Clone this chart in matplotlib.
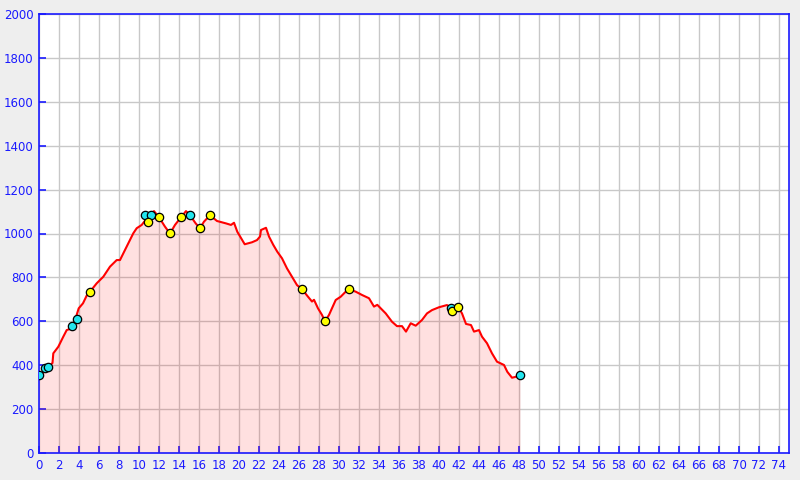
import numpy as np
import matplotlib
matplotlib.use("Agg")
from matplotlib import pyplot as plt

# profile: distance (km) and elevation (m)
km = [0.0, 0.43, 0.9, 1.35, 1.43, 1.93, 2.43, 2.77, 3.27, 3.5, 3.97, 4.4, 4.8, 5.1, 5.77,
      6.43, 7.1, 7.77, 8.1, 8.6, 9.43, 9.77, 10.27, 10.8, 11.5, 12.0, 12.6, 13.1, 13.6,
      14.2, 14.7, 15.1, 15.67, 16.1, 16.5, 17.1, 17.8, 18.7, 19.2, 19.5, 19.83, 20.57,
      21.3, 21.8, 22.1, 22.2, 22.7, 23.0, 23.43, 23.83, 24.3, 24.8, 25.3, 25.8, 26.3,
      26.9, 27.3, 27.5, 27.9, 28.3, 28.6, 29.0, 29.67, 30.17, 30.67, 31.0, 31.67, 32.3,
      33.0, 33.5, 33.83, 34.67, 35.3, 35.8, 36.3, 36.7, 37.17, 37.67, 38.3, 38.8, 39.3,
      40.0, 40.8, 41.2, 41.9, 42.3, 42.7, 43.2, 43.5, 44.0, 44.3, 44.8, 45.3, 45.8, 46.5,
      46.83, 47.3, 47.67, 48.1]
elev = [355, 366, 393, 410, 454, 484, 530, 560, 568, 590, 659, 682, 720, 735, 773,
        803, 849, 879, 879, 925, 1001, 1024, 1039, 1070, 1102, 1074, 1031, 1000, 1039,
        1074, 1102, 1083, 1046, 1024, 1054, 1083, 1057, 1046, 1039, 1049, 1008, 951,
        960, 970, 986, 1016, 1026, 986, 948, 917, 887, 841, 803, 765, 746,
        712, 690, 698, 659, 629, 600, 629, 697, 712, 735, 746, 735, 720,
        705, 667, 675, 636, 598, 578, 578, 553, 591, 580, 606, 636, 651,
        664, 674, 662, 665, 636, 588, 583, 553, 560, 530, 500, 454, 416, 401,
        370, 343, 347, 355]

cyan_km = [0.0, 0.6, 0.93, 3.3, 3.8, 10.6, 11.2, 15.1, 41.2, 48.1]
cyan_elev = [355, 386, 390, 580, 612, 1083, 1083, 1083, 662, 355]
yellow_km = [5.1, 10.9, 12.0, 13.1, 14.2, 16.1, 17.1, 26.3, 28.6, 31.0, 41.3, 41.9]
yellow_elev = [732, 1051, 1074, 1001, 1074, 1024, 1083, 746, 600, 746, 647, 665]

blue = "#1a1aff"
fig = plt.figure(figsize=(8, 4.8), dpi=100, facecolor="#eeeeee")
ax = fig.add_axes([39/800, 27/480, 750/800, 439/480])
ax.set_facecolor("white")

ax.fill_between(km, elev, 0, color="red", alpha=0.12, linewidth=0, zorder=2)
ax.plot(km, elev, color="red", linewidth=1.5, zorder=3)
ax.scatter(cyan_km, cyan_elev, s=36, color="#22e5ee", edgecolor="black", linewidth=0.9, zorder=4)
ax.scatter(yellow_km, yellow_elev, s=36, color="#ffff00", edgecolor="black", linewidth=0.9, zorder=5)

ax.set_xlim(0, 75)
ax.set_ylim(0, 2000)
ax.set_xticks(np.arange(0, 75, 2))
ax.set_yticks(np.arange(0, 2001, 200))
ax.grid(True, color="#c8c8c8", linewidth=1, zorder=1)
ax.set_axisbelow(True)
for s in ax.spines.values():
    s.set_color(blue)
    s.set_linewidth(1.2)
ax.tick_params(direction="in", length=5, width=1.2, color=blue, labelcolor=blue, labelsize=8.5, pad=4)

fig.savefig("out.png", dpi=100, facecolor=fig.get_facecolor())
